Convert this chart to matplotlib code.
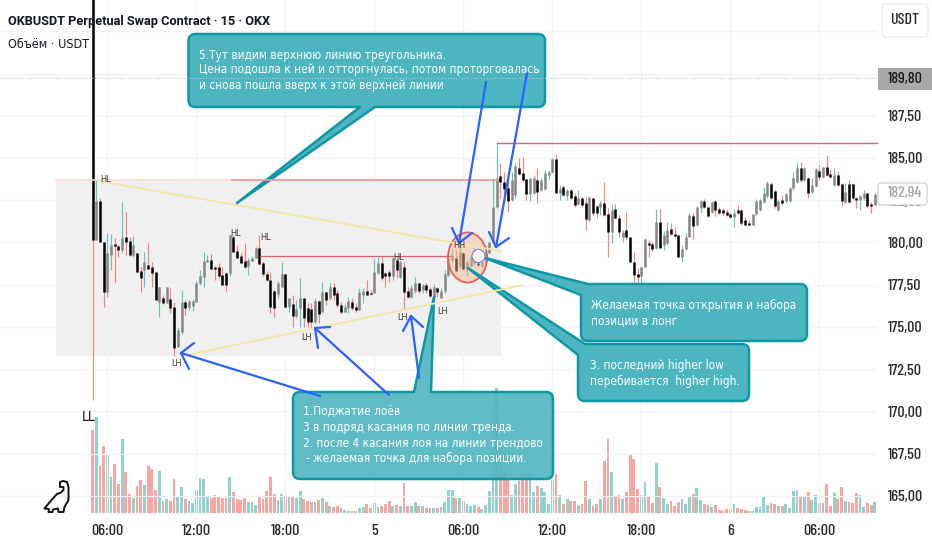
import matplotlib
matplotlib.use("Agg")
import matplotlib.pyplot as plt
from matplotlib.patches import Ellipse, FancyBboxPatch, PathPatch, Polygon, Rectangle
from matplotlib.path import Path

# candles, 15 min bars, prices
opens = [
    200, 180.15, 182.48, 180.0, 177.04, 179.26, 179.9, 179.82, 179.56, 180.31,
    180.07, 179.27, 179.4, 178.34, 178.38, 178.67, 178.52, 178.28, 176.5, 176.7,
    176.4, 176.68, 176.2, 173.84, 174.73, 176.5, 176.2, 176.25, 176.5, 177.59,
    177.98, 178.87, 178.97, 178.55, 178.52, 178.06, 178.18, 178.18, 180.31, 179.52,
    179.2, 178.93, 178.58, 178.93, 179.07, 179.66, 178.81, 178.14, 177.75, 177.15,
    176.95, 177.39, 178.12, 176.2, 176.37, 175.62, 176.1, 176.7, 176.1, 176.07,
    175.32, 176.56, 175.91, 177.04, 176.7, 177.39, 177.0, 176.3, 175.91, 176.1,
    176.5, 176.2, 176.0, 176.9, 177.13, 177.03, 177.03, 178.18, 178.77, 178.2,
    178.28, 178.0, 178.97, 177.94, 178.53, 177.1, 176.8, 177.1, 177.63, 177.2,
    177.49, 177.23, 176.8, 177.29, 176.74, 177.1, 178.08, 178.97, 179.07, 178.58,
    179.4, 178.38, 178.58, 178.77, 178.77, 178.62, 178.87, 179.4, 180.05, 182.08,
    183.93, 183.6, 183.2, 182.5, 182.8, 184.43, 184.1, 183.74, 182.85, 182.9,
    183.7, 183.1, 183.15, 184.0, 184.2, 184.92, 182.9, 183.27, 182.8, 183.1,
    182.75, 182.28, 182.66, 182.36, 181.35, 182.65, 182.16, 182.12, 182.32, 181.69,
    180.64, 181.99, 181.43, 180.35, 180.74, 180.35, 178.87, 178.12, 178.0, 178.57,
    179.95, 179.92, 179.66, 181.24, 179.86, 179.96, 180.78, 180.51, 180.45, 179.13,
    179.6, 180.35, 181.57, 181.04, 182.02, 182.48, 182.12, 181.83, 182.48, 181.99,
    181.93, 181.83, 181.69, 181.49, 181.93, 181.93, 181.34, 181.18, 181.04, 181.67,
    181.93, 182.42, 182.77, 183.46, 183.07, 181.93, 182.52, 182.48, 182.48, 183.21,
    183.6, 184.39, 183.7, 183.8, 183.01, 183.35, 184.25, 183.9, 184.45, 184.06,
    183.4, 184.0, 183.46, 182.42, 183.46, 183.46, 182.65, 182.52, 182.62, 182.95,
    182.28, 182.22,
]
closes = [
    180.15, 182.48, 180.0, 177.04, 179.36, 179.86, 179.82, 179.56, 180.29, 180.05,
    179.27, 179.86, 178.28, 177.92, 178.87, 178.42, 178.18, 176.6, 177.39, 176.4,
    177.39, 176.15, 173.74, 174.83, 176.5, 176.15, 176.56, 176.56, 177.63, 178.04,
    178.93, 178.97, 178.42, 178.42, 178.02, 177.49, 177.49, 180.45, 179.46, 179.11,
    178.81, 178.54, 178.97, 179.07, 179.66, 178.73, 178.12, 177.75, 176.17, 176.1,
    177.59, 178.14, 176.2, 176.7, 175.66, 176.05, 176.7, 175.52, 175.3, 175.32,
    176.56, 175.77, 177.04, 176.6, 177.39, 176.9, 176.3, 175.91, 176.2, 176.56,
    176.1, 176.0, 177.05, 177.1, 176.9, 176.94, 178.24, 178.77, 177.88, 178.0,
    178.0, 179.07, 178.38, 178.87, 177.06, 176.8, 177.29, 177.63, 177.1, 177.49,
    177.2, 176.84, 177.39, 177.06, 177.15, 178.14, 179.07, 179.27, 178.34, 179.46,
    178.42, 178.87, 179.17, 179.17, 178.67, 178.87, 179.36, 180.05, 182.08, 183.8,
    183.6, 183.15, 182.48, 183.7, 184.5, 184.04, 183.7, 182.85, 183.8, 183.8,
    183.0, 183.7, 184.1, 184.2, 184.92, 182.9, 183.15, 182.81, 183.1, 182.62,
    182.2, 182.62, 182.22, 181.37, 182.67, 181.73, 181.73, 182.32, 181.63, 180.64,
    181.93, 181.43, 180.64, 180.64, 180.35, 178.87, 178.08, 177.94, 178.57, 180.19,
    179.86, 179.6, 181.24, 179.66, 180.45, 180.74, 180.51, 180.39, 179.13, 179.62,
    180.35, 181.63, 180.98, 182.08, 182.48, 182.08, 181.57, 182.42, 181.93, 181.73,
    181.73, 181.63, 181.49, 181.73, 181.73, 181.14, 181.04, 181.04, 181.67, 182.48,
    182.52, 182.91, 183.5, 182.62, 182.16, 182.48, 182.32, 182.87, 183.21, 183.8,
    184.43, 183.7, 184.43, 182.95, 183.4, 184.33, 183.9, 184.45, 184.0, 183.9,
    184.0, 183.4, 182.46, 183.01, 182.42, 182.62, 182.52, 182.77, 182.95, 182.16,
    182.16, 182.87,
]
highs = [
    200, 183.7, 182.62, 180.0, 180.55, 180.5, 180.25, 179.86, 182.42, 181.83,
    180.35, 180.39, 179.4, 178.57, 179.46, 180.05, 178.87, 178.28, 177.39, 176.9,
    177.39, 177.29, 176.5, 175.02, 177.19, 176.6, 176.6, 176.65, 177.7, 178.38,
    179.46, 179.27, 179.33, 178.6, 178.77, 178.57, 178.28, 180.45, 180.45, 179.86,
    179.4, 179.95, 179.07, 179.2, 179.76, 180.45, 178.93, 178.34, 178.28, 177.2,
    177.7, 178.87, 178.12, 176.7, 176.9, 176.6, 177.92, 176.7, 176.4, 176.4,
    176.7, 176.6, 177.65, 177.04, 177.59, 177.59, 177.2, 176.5, 176.37, 176.8,
    176.7, 176.4, 177.29, 177.29, 177.78, 177.2, 179.07, 179.17, 179.2, 178.28,
    178.38, 179.2, 179.17, 178.97, 178.87, 177.39, 177.49, 177.98, 177.63, 177.55,
    177.59, 177.39, 177.55, 177.39, 177.29, 178.38, 179.36, 179.66, 179.56, 179.95,
    179.46, 178.97, 179.27, 179.76, 178.87, 179.07, 179.86, 180.05, 183.8, 185.9,
    184.69, 184.2, 184.0, 184.2, 184.69, 184.98, 185.08, 183.74, 183.84, 184.0,
    184.4, 183.8, 184.29, 184.29, 184.98, 185.24, 183.41, 183.41, 183.15, 183.15,
    182.91, 183.11, 182.72, 182.72, 182.72, 182.65, 182.22, 182.48, 183.6, 182.03,
    182.28, 182.28, 181.63, 180.74, 181.83, 180.35, 179.46, 178.48, 178.6, 180.25,
    180.15, 180.05, 181.99, 181.99, 180.65, 181.24, 181.14, 180.94, 180.45, 179.86,
    180.55, 181.73, 181.73, 182.16, 182.52, 182.56, 182.12, 182.48, 182.52, 182.09,
    182.03, 181.97, 181.73, 181.97, 182.22, 181.97, 181.49, 181.34, 181.67, 182.56,
    182.56, 183.3, 183.66, 183.6, 183.11, 182.56, 182.81, 182.91, 183.27, 184.2,
    184.79, 184.79, 184.49, 183.86, 183.8, 184.39, 184.59, 184.49, 185.18, 184.33,
    184.39, 184.25, 183.5, 183.5, 183.7, 183.5, 182.72, 182.81, 183.11, 182.95,
    182.42, 182.95,
]
lows = [
    170.7, 180.15, 180.0, 176.17, 176.8, 178.38, 177.65, 179.13, 179.36, 179.27,
    179.2, 179.17, 178.22, 177.06, 177.39, 178.42, 177.39, 176.6, 175.58, 176.35,
    176.4, 175.81, 173.29, 173.84, 174.59, 175.71, 176.0, 175.97, 176.5, 177.5,
    177.39, 178.87, 178.42, 177.78, 177.88, 177.49, 177.15, 178.0, 179.46, 179.07,
    178.77, 178.48, 178.08, 178.9, 179.07, 178.73, 178.04, 177.7, 175.85, 175.58,
    176.7, 177.39, 176.1, 175.91, 175.02, 175.52, 175.02, 175.02, 174.98, 174.93,
    175.26, 175.22, 175.91, 176.3, 176.6, 176.6, 176.2, 175.78, 175.9, 175.85,
    176.0, 175.91, 176.0, 176.4, 176.9, 176.9, 177.0, 178.14, 177.78, 177.39,
    177.69, 177.78, 177.88, 177.88, 176.0, 176.7, 176.7, 177.0, 177.0, 177.0,
    177.0, 176.8, 176.7, 176.8, 176.7, 177.0, 178.0, 178.87, 178.28, 178.48,
    178.38, 178.04, 178.54, 178.67, 178.57, 178.54, 178.77, 179.36, 180.0, 182.03,
    182.62, 182.52, 181.83, 182.48, 182.62, 184.0, 183.6, 182.52, 182.48, 182.87,
    182.36, 183.05, 183.11, 183.7, 184.1, 182.9, 182.52, 182.75, 182.52, 182.58,
    182.08, 182.22, 182.12, 180.74, 181.24, 181.63, 181.43, 181.63, 181.57, 179.17,
    179.96, 181.43, 180.35, 180.05, 180.15, 178.87, 176.99, 177.1, 177.49, 178.54,
    179.17, 179.52, 179.6, 179.76, 179.56, 179.86, 180.45, 180.35, 179.13, 178.87,
    179.56, 180.31, 180.19, 180.98, 181.73, 182.02, 181.49, 181.77, 181.57, 181.69,
    181.63, 181.57, 181.43, 180.94, 181.69, 181.04, 181.04, 181.04, 181.04, 181.63,
    181.89, 182.36, 182.62, 182.56, 182.06, 181.87, 182.22, 182.36, 182.42, 183.11,
    183.54, 183.6, 183.64, 182.62, 182.95, 183.31, 183.7, 183.8, 183.94, 183.8,
    183.35, 183.35, 182.16, 182.32, 182.36, 182.56, 182.03, 181.93, 182.52, 182.03,
    181.73, 182.16,
]
volumes = [
    250, 287, 142, 202, 173, 107, 148, 88, 222, 124,
    58, 44, 82, 100, 85, 142, 132, 68, 127, 36,
    41, 37, 102, 52, 78, 42, 36, 31, 70, 105,
    102, 49, 44, 55, 52, 45, 46, 109, 64, 41,
    39, 44, 34, 32, 24, 52, 41, 66, 107, 56,
    39, 56, 49, 48, 52, 46, 66, 42, 37, 32,
    32, 39, 44, 32, 21, 17, 22, 15, 9, 7,
    7, 7, 15, 19, 27, 15, 31, 17, 20, 28,
    37, 22, 25, 22, 90, 22, 22, 34, 22, 20,
    14, 14, 16, 16, 19, 34, 68, 68, 46, 46,
    37, 26, 22, 24, 19, 12, 25, 65, 300, 375,
    205, 132, 105, 55, 88, 97, 117, 117, 127, 63,
    82, 75, 63, 26, 100, 118, 55, 28, 43, 36,
    36, 24, 26, 95, 43, 22, 28, 43, 156, 222,
    122, 51, 53, 43, 63, 173, 163, 73, 55, 93,
    51, 31, 151, 78, 46, 28, 36, 22, 34, 41,
    26, 51, 56, 75, 38, 26, 25, 19, 24, 9,
    6, 12, 12, 26, 14, 12, 9, 6, 6, 19,
    19, 51, 24, 31, 27, 22, 20, 28, 14, 66,
    68, 51, 51, 63, 39, 55, 29, 29, 88, 22,
    61, 41, 78, 36, 32, 31, 60, 55, 17, 31,
    24, 34,
]

price_ticks = [165, 167.5, 170, 172.5, 175, 177.5, 180, 182.5, 185, 187.5, 190, 192.5]
price_labels = ["165,00", "167,50", "170,00", "172,50", "175,00", "177,50",
                "180,00", "182,50", "185,00", "187,50", "", ""]
time_ticks = [4, 28, 52, 76, 100, 124, 148, 172, 196]
time_labels = ["06:00", "12:00", "18:00", "5", "06:00", "12:00", "18:00", "6", "06:00"]

TEAL_FILL = "#4db5c0"
TEAL_EDGE = "#0e98a5"
BLUE = "#2962ff"
FONT = {"family": "DejaVu Sans", "stretch": "condensed"}
NUM_FONT = {"family": ["Barlow Condensed", "DejaVu Sans"], "fontweight": 500}

W, H = 932, 550
fig = plt.figure(figsize=(W / 100, H / 100), dpi=100, facecolor="white")


def pixel_axes(zorder):
    # whole figure in image pixels, y going down
    a = fig.add_axes([0, 0, 1, 1], zorder=zorder)
    a.set_xlim(0, W)
    a.set_ylim(H, 0)
    a.axis("off")
    a.patch.set_alpha(0)
    return a


bg = pixel_axes(0)
bg.add_patch(Rectangle((56, 181), 445, 175, fc="#f0f0f0", ec="none"))

ax_rect = [0, (H - 513) / H, 877 / W, 513 / H]
vol = fig.add_axes(ax_rect, zorder=1)
ax = fig.add_axes(ax_rect, zorder=2)
for a in (ax, vol):
    a.patch.set_alpha(0)
    a.set_xlim(-24.95, 211.57)
    for s in a.spines.values():
        s.set_visible(False)

idx = list(range(len(opens)))
up = [c >= o for o, c in zip(opens, closes)]

vol.bar(idx, volumes, width=0.76, color=["#8fd1cb" if u else "#faa3a3" for u in up])
vol.set_ylim(0, 513 * 3)
vol.set_xticks([])
vol.set_yticks([])

ax.set_ylim(163.99, 194.35)
ax.vlines(idx, lows, highs, colors=["#6cc2bd" if u else "#f08585" for u in up], lw=0.85)
ax.vlines(idx, opens, closes, colors=["#868686" if u else "#000000" for u in up], lw=1.8)
ax.yaxis.tick_right()
ax.set_yticks(price_ticks, price_labels, fontsize=11.5, color="#2b2b2b", **NUM_FONT)
ax.set_xticks(time_ticks, time_labels, fontsize=11.5, color="#2b2b2b", **NUM_FONT)
ax.tick_params(length=0)
ax.tick_params(axis="y", pad=8)
ax.tick_params(axis="x", pad=8)
ax.grid(True, color="#f3f3f5", lw=0.9)
ax.set_axisbelow(True)

top = pixel_axes(3)

# levels and triangle
top.plot([56, 232], [180, 180], color="#f8d5d5", lw=1.1)
top.plot([232, 497], [180, 180], color="#ef9a9a", lw=1.3)
top.plot([497, 877], [143, 143], color="#e8606c", lw=1)
top.plot([260, 450], [255.5, 255.5], color="#e0606a", lw=0.9)
top.plot([101, 501], [181.5, 251], color="#f5e6a3", lw=1.3)
top.plot([187, 523], [355, 285], color="#f5e6a3", lw=1.3)
top.plot([0, 877], [78, 78], color="#c4c4c4", lw=0.8, ls=(0, (1, 1.5)))

top.add_patch(Ellipse((467.5, 257.5), 39, 50, fc="#f8b88a", ec="none", alpha=0.45))
top.add_patch(Ellipse((467.5, 257.5), 39, 50, fc="none", ec="#ea5f57", lw=1.3))

# pivots
for label, px, py in [("HL", 106, 179), ("HL", 236, 234), ("HL", 266, 238), ("HL", 399, 257),
                      ("HH", 459, 246), ("LH", 177, 363), ("LH", 307, 338), ("LH", 403, 318),
                      ("LH", 443, 312)]:
    top.text(px, py, label, ha="center", va="center", fontsize=6.6, color="#3c3c3c", **FONT)
top.text(89, 417, "LL", ha="center", va="center", fontsize=10, color="#111111", **FONT)


def callout(x0, y0, x1, y1, tail, edge, alpha=1.0, r=7):
    # rounded box going clockwise from the top left, tail spliced into one side
    v = [(x0 + r, y0)]
    c = [Path.MOVETO]

    def line(pts):
        v.extend(pts)
        c.extend([Path.LINETO] * len(pts))

    def corner(ctrl, end):
        v.extend([ctrl, end])
        c.extend([Path.CURVE3, Path.CURVE3])

    if edge == "top":
        line(tail)
    line([(x1 - r, y0)])
    corner((x1, y0), (x1, y0 + r))
    line([(x1, y1 - r)])
    corner((x1, y1), (x1 - r, y1))
    if edge == "bottom":
        line(tail)
    line([(x0 + r, y1)])
    corner((x0, y1), (x0, y1 - r))
    if edge == "corner":
        # tail runs out of the top left corner
        line(tail)
    else:
        line([(x0, y0 + r)])
        corner((x0, y0), (x0 + r, y0))
    v.append((x0 + r, y0))
    c.append(Path.CLOSEPOLY)
    top.add_patch(PathPatch(Path(v, c), fc=matplotlib.colors.to_rgba(TEAL_FILL, alpha),
                            ec=TEAL_EDGE, lw=1.8, joinstyle="round"))


callout(188.5, 34, 545, 107, [(375, 107), (237, 203), (360, 107)], "bottom")
callout(293, 392, 553, 479, [(414, 392), (434, 297), (431, 392)], "top", alpha=0.9)
callout(581, 284, 807, 341, [(581, 295), (485, 258)], "corner")
callout(578, 344, 749, 401, [(578, 355), (468, 268)], "corner")

top.add_patch(Ellipse((478.5, 256), 13, 13, fc="white", ec=BLUE, lw=0.6))

# blue arrows
for lx, ly, tx, ty, ax1, ay1, ax2, ay2 in [
    (320, 396, 181, 353, 194, 343, 189, 369),
    (389, 395, 315, 328, 330, 327, 318, 348),
    (419, 378, 411, 316, 403, 331, 423, 327),
    (486, 82, 459, 243, 452, 228, 472, 233),
    (527, 73, 496, 247, 489, 232, 509, 238),
]:
    top.plot([lx, tx], [ly, ty], color=BLUE, lw=1.6, solid_capstyle="round")
    top.plot([ax1, tx, ax2], [ay1, ty, ay2], color=BLUE, lw=1.6, solid_capstyle="round")

# callout texts
for x, y, s in [
    (199, 55, "5.Тут видим верхнюю линию треугольника."),
    (199, 70, "Цена подошла к ней и отторгнулась, потом проторговалась"),
    (199, 86, "и снова пошла вверх к этой верхней линии"),
    (303, 412, "1.Поджатие лоёв"),
    (303, 427, "3 в подряд касания по линии тренда."),
    (303, 443, "2. после 4 касания лоя на линии трендово"),
    (306, 458, "- желаемая точка для набора позиции."),
    (591, 305, "Желаемая точка открытия и набора"),
    (591, 321, "позиции в лонг"),
    (590, 365, "3. последний higher low"),
    (590, 381, "перебивается  higher high."),
]:
    top.text(x, y, s, ha="left", va="center", color="white", fontsize=8.5, **FONT)

# header
top.text(8, 22, "OKBUSDT Perpetual Swap Contract · 15 · OKX", ha="left", va="center",
         fontsize=9.2, fontweight="bold", color="#131722", family="Roboto")
top.text(8, 45, "Объём · USDT", ha="left", va="center", fontsize=9, color="#131722", **FONT)

# right hand scale labels
top.add_patch(FancyBboxPatch((884, 6), 42, 29, boxstyle="round,pad=2,rounding_size=4",
                             fc="white", ec="#ececec", lw=1))
top.text(905, 20.5, "USDT", ha="center", va="center", fontsize=11.5, color="#2b2b2b", **NUM_FONT)
top.add_patch(Rectangle((878, 68), 54, 22, fc="#a8a8a8", ec="none"))
top.text(905, 78.5, "189,80", ha="center", va="center", fontsize=11.5, color="#1c1c1c", **NUM_FONT)
top.add_patch(FancyBboxPatch((880, 185), 45, 18, boxstyle="round,pad=2,rounding_size=3",
                             fc="white", ec="#d4d4d4", lw=1))
top.text(905, 193.5, "182,94", ha="center", va="center", fontsize=11.5, color="#a6a6a6", **NUM_FONT)

# dinosaur logo
dino = [(60, 487), (60, 482), (63, 481), (67, 482), (68.5, 487), (68.5, 500), (64.5, 507),
        (63.5, 512), (58.5, 512), (58, 508.5), (53, 509.5), (52.5, 512), (48.5, 512),
        (49, 509), (44.5, 508.5), (51.5, 500), (57, 494), (61, 492.5), (63.5, 490), (63.5, 487)]
top.add_patch(Polygon(dino, closed=True, fc="none", ec="#111111", lw=1.4, joinstyle="round"))

fig.savefig("out.png", dpi=100)
